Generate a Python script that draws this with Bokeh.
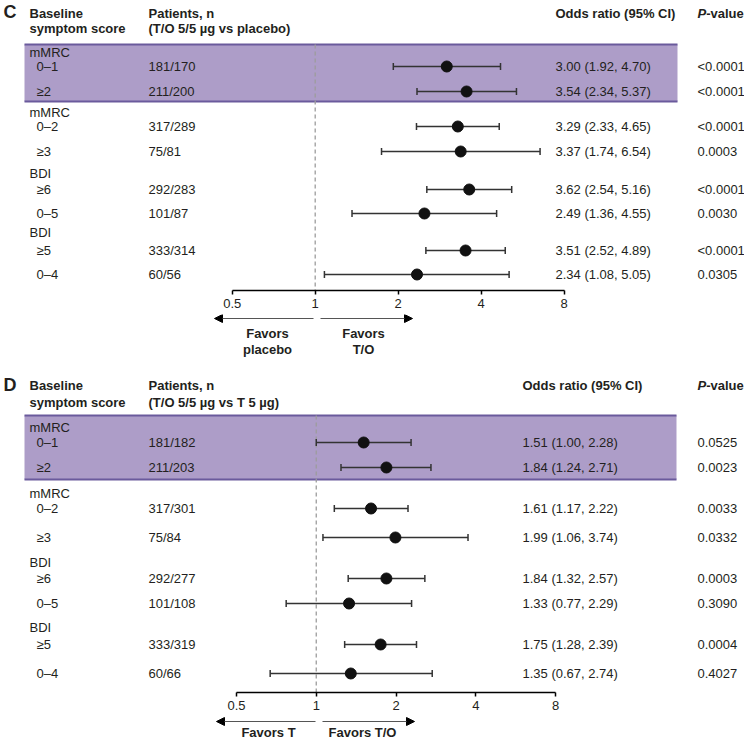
import math
from bokeh.plotting import figure
from bokeh.layouts import column
from bokeh.models import (Range1d, FixedTicker, CustomJSTickFormatter, Arrow,
                          NormalHead, LinearScale)
from bokeh.embed import file_html
from bokeh.resources import INLINE
from bokeh.core.properties import value

# ---------------- data ----------------
TICKS = [0.5, 1, 2, 4, 8]
NULL_OR = 1

C_GROUPS = ["mMRC", "mMRC", "BDI", "BDI"]
C_LABELS = ["0–1", "≥2", "0–2", "≥3", "≥6", "0–5", "≥5", "0–4"]
C_N = ["181/170", "211/200", "317/289", "75/81", "292/283", "101/87", "333/314", "60/56"]
C_OR = [3.00, 3.54, 3.29, 3.37, 3.62, 2.49, 3.51, 2.34]
C_LO = [1.92, 2.34, 2.33, 1.74, 2.54, 1.36, 2.52, 1.08]
C_HI = [4.70, 5.37, 4.65, 6.54, 5.16, 4.55, 4.89, 5.05]
C_P = ["<0.0001", "<0.0001", "<0.0001", "0.0003", "<0.0001", "0.0030", "<0.0001", "0.0305"]
C_HEAD = ["Baseline", "symptom score", "Patients, n", "(T/O 5/5 µg vs placebo)"]
C_FAV = [["Favors", "placebo"], ["Favors", "T/O"]]

D_GROUPS = ["mMRC", "mMRC", "BDI", "BDI"]
D_LABELS = ["0–1", "≥2", "0–2", "≥3", "≥6", "0–5", "≥5", "0–4"]
D_N = ["181/182", "211/203", "317/301", "75/84", "292/277", "101/108", "333/319", "60/66"]
D_OR = [1.51, 1.84, 1.61, 1.99, 1.84, 1.33, 1.75, 1.35]
D_LO = [1.00, 1.24, 1.17, 1.06, 1.32, 0.77, 1.28, 0.67]
D_HI = [2.28, 2.71, 2.22, 3.74, 2.57, 2.29, 2.39, 2.74]
D_P = ["0.0525", "0.0023", "0.0033", "0.0332", "0.0003", "0.3090", "0.0004", "0.4027"]
D_HEAD = ["Baseline", "symptom score", "Patients, n", "(T/O 5/5 µg vs T 5 µg)"]
D_FAV = [["Favors T"], ["Favors T/O"]]

# ---------------- style ----------------
FONT = "Liberation Sans"
TXT = "#231f20"
BAND = "#ad9dc8"
BAND_LINE = "#6a5a9c"
WHISKER = "#333333"
FS = "13px"
PAGE_L, PAGE_R = 0, 744
W = PAGE_R - PAGE_L
AX_BORDER = 24


def text_on(p, xx, yy, tt, bold=False, italic=False, align="left", size=FS, rng="px"):
    style = "bold italic" if (bold and italic) else ("bold" if bold else "normal")
    kw = dict(x_range_name=rng) if rng else {}
    p.text(x=xx, y=yy, text=tt, text_font=value(FONT),
           text_font_size=size, text_font_style=style, text_color=TXT,
           text_baseline="middle", text_align=align, **kw)


def make_panel(letter, head, groups, labels, n, orr, lo, hi, pv, fav, L):
    top_ref, axis_ref = L["top"], L["axis"]
    frame_h = axis_ref - top_ref
    fig_h = frame_h + AX_BORDER
    a0, a1 = L["ax05"], L["ax8"]
    span = math.log2(TICKS[-1] / TICKS[0])

    def lv(px):
        return math.log2(TICKS[0]) + (px - a0) * span / (a1 - a0)
    xs, xe = 2 ** lv(PAGE_L), 2 ** lv(PAGE_R)

    p = figure(width=W, height=fig_h, x_axis_type="log",
               x_range=Range1d(xs, xe), y_range=Range1d(axis_ref, top_ref),
               output_backend="svg", toolbar_location=None,
               min_border_left=0, min_border_right=0, min_border_top=0,
               min_border_bottom=AX_BORDER, y_axis_location=None,
               outline_line_color=None, background_fill_color="white",
               border_fill_color="white")
    p.grid.visible = False
    p.extra_x_ranges = {"px": Range1d(PAGE_L, PAGE_R)}
    p.extra_x_scales = {"px": LinearScale()}

    # highlighted band
    bl, br, bt, bb = L["band"]
    p.quad(left=[bl], right=[br], top=[bt], bottom=[bb], x_range_name="px",
           fill_color=BAND, line_color=None)
    p.segment(x0=[bl, bl], x1=[br, br], y0=[bt, bb], y1=[bt, bb], x_range_name="px",
              line_color=BAND_LINE, line_width=2.2)

    # null line
    p.segment(x0=[NULL_OR], x1=[NULL_OR], y0=[bt], y1=[axis_ref],
              line_color="#9c9c9c", line_width=1.3, line_dash="4 3")

    # headers
    hy1, hy2 = L["hy"]
    text_on(p, [L["letter_x"]], [L["letter_y"]], [letter], bold=True, size="18px")
    text_on(p, [L["c1"], L["c1"]], [hy1, hy2], head[0:2], bold=True)
    text_on(p, [L["c2"], L["c2"]], [hy1, hy2], head[2:4], bold=True)
    text_on(p, [L["c3"]], [hy1], ["Odds ratio (95% CI)"], bold=True)
    text_on(p, [L["c4"]], [hy1], ["P"], bold=True, italic=True)
    text_on(p, [L["c4"] + 8.7], [hy1], ["-value"], bold=True)

    # rows
    iy = L["iy"]
    text_on(p, [L["c1"]] * len(groups), L["gy"], groups)
    text_on(p, [L["c1"] + 7] * len(labels), iy, labels)
    text_on(p, [L["c2"]] * len(n), iy, n)
    text_on(p, [L["c3"]] * len(orr), iy,
            ["%.2f (%.2f, %.2f)" % (o, a, b) for o, a, b in zip(orr, lo, hi)])
    text_on(p, [L["c4"]] * len(pv), iy, pv)

    # forest marks
    cap = 3.5
    p.segment(x0=lo, x1=hi, y0=iy, y1=iy, line_color=WHISKER, line_width=1.6)
    p.segment(x0=lo, x1=lo, y0=[y - cap for y in iy], y1=[y + cap for y in iy],
              line_color=WHISKER, line_width=1.5)
    p.segment(x0=hi, x1=hi, y0=[y - cap for y in iy], y1=[y + cap for y in iy],
              line_color=WHISKER, line_width=1.5)
    p.scatter(x=orr, y=iy, size=11, fill_color="#111111", line_color="#111111")

    # axis
    ax = p.xaxis[0]
    ax.bounds = (TICKS[0], TICKS[-1])
    ax.ticker = FixedTicker(ticks=TICKS, minor_ticks=[])
    ax.formatter = CustomJSTickFormatter(code="return tick.toString();")
    ax.axis_line_color = "black"
    ax.axis_line_width = 1.5
    ax.major_tick_line_color = "black"
    ax.major_tick_line_width = 1.5
    ax.major_tick_out = 4
    ax.major_tick_in = 0
    ax.minor_tick_line_color = None
    ax.major_label_standoff = 4
    ax.major_label_text_font = FONT
    ax.major_label_text_font_size = FS
    ax.major_label_text_color = TXT

    # favors strip (separate figure directly under the axis)
    f_top = axis_ref + AX_BORDER
    f_bot = L["bottom"]
    f = figure(width=W, height=f_bot - f_top, x_range=Range1d(PAGE_L, PAGE_R),
               y_range=Range1d(f_bot, f_top), output_backend="svg",
               toolbar_location=None, min_border=0, x_axis_location=None,
               y_axis_location=None, outline_line_color=None,
               background_fill_color="white", border_fill_color="white")
    f.grid.visible = False
    ay = L["arrow_y"]
    for (x0, x1) in L["arrows"]:
        f.add_layout(Arrow(x_start=x0, y_start=ay, x_end=x1, y_end=ay,
                           line_color="#555555", line_width=1.2,
                           end=NormalHead(size=8, fill_color="black",
                                          line_color="black", line_width=1)))
    for cx, lines in zip(L["fav_x"], fav):
        text_on(f, [cx] * len(lines), L["fav_y"][:len(lines)], lines,
                bold=True, align="center", rng=None)
    return p, f


LC = dict(top=0, axis=290, bottom=365, ax05=231.7, ax8=563.7,
          band=(24, 677, 44, 101), hy=(13, 28), letter_x=3, letter_y=11,
          c1=29, c2=148, c3=555, c4=697,
          gy=[52, 112, 173, 232], iy=[66, 91, 126, 151, 189, 213, 250, 274],
          arrow_y=318, arrows=[(313, 214), (320, 412)],
          fav_x=[267, 363], fav_y=[333, 349])

LD = dict(top=365, axis=692, bottom=739, ax05=236, ax8=555,
          band=(24, 676, 415, 479), hy=(385, 402), letter_x=3, letter_y=384,
          c1=29, c2=148, c3=522, c4=697,
          gy=[427, 493, 562, 627], iy=[442, 467, 508, 537, 578, 603, 644, 673],
          arrow_y=721, arrows=[(315, 216), (322, 414)],
          fav_x=[268, 362], fav_y=[732])

pC, fC = make_panel("C", C_HEAD, C_GROUPS, C_LABELS, C_N, C_OR, C_LO, C_HI, C_P, C_FAV, LC)
pD, fD = make_panel("D", D_HEAD, D_GROUPS, D_LABELS, D_N, D_OR, D_LO, D_HI, D_P, D_FAV, LD)

layout = column(pC, fC, pD, fD, spacing=0)
open("out.html", "w").write(file_html(layout, INLINE))
